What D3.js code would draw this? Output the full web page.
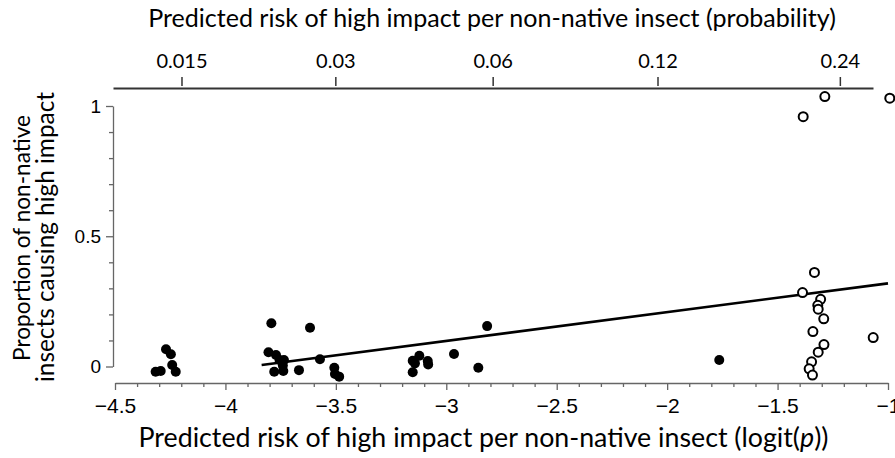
<!DOCTYPE html>
<html><head><meta charset="utf-8">
<script src="https://cdn.jsdelivr.net/npm/d3@7"></script>
<style>body{margin:0;background:#fff}svg{display:block}</style>
</head><body><svg id="c" width="895" height="458"></svg>
<script>
// ---- data ----
const filledX = [-4.316,-4.293,-4.269,-4.247,-4.241,-4.225,
  -3.792,-3.617,-3.805,-3.771,-3.755,-3.735,-3.740,-3.779,-3.738,-3.667,-3.572,-3.507,-3.504,-3.485,
  -2.815,-3.122,-3.152,-3.142,-3.084,-3.082,-3.152,-2.965,-2.855,
  -1.764];
const filledY = [-0.020,-0.017,0.066,0.047,0.006,-0.020,
  0.166,0.149,0.055,0.044,0.025,0.025,0.004,-0.020,-0.017,-0.014,0.028,-0.005,-0.029,-0.039,
  0.155,0.041,0.022,0.012,0.021,0.008,-0.022,0.048,-0.005,
  0.025];
const openX = [-1.286,-0.992,-1.384,-1.333,-1.387,-1.305,-1.318,-1.316,-1.291,-1.340,-1.067,-1.290,-1.316,-1.346,-1.357,-1.342];
const openY = [1.036,1.030,0.959,0.361,0.284,0.258,0.235,0.220,0.183,0.134,0.111,0.084,0.055,0.018,-0.009,-0.033];
const fitX = [-3.836, -1.0];
const fitY = [0.006, 0.319];
const xTicks = [-4.5,-4,-3.5,-3,-2.5,-2,-1.5,-1];
const yTicks = [0,0.5,1];
const probTicks = [0.015,0.03,0.06,0.12,0.24];
const probLabels = ["0.015","0.03","0.06","0.12","0.24"];
const topTitle = "Predicted risk of high impact per non-native insect (probability)";
const bottomTitle = ["Predicted risk of high impact per non-native insect (logit(", "p", "))"];
const yTitle = ["Proportion of non-native", "insects causing high impact"];

// ---- layout ----
const svg = d3.select("#c");
const x = d3.scaleLinear().domain([-4.5,-1]).range([115,888]);
const xTop = d3.scaleLinear().domain([-4.5,-1]).range([113,873]);
const y = d3.scaleLinear().domain([0,1]).range([366.5,106]);
const logit = p => Math.log(p/(1-p));
const sans = "'Liberation Sans', Arial, sans-serif";
const cal = "Lato, 'Open Sans', sans-serif";

function fit(sel, target){
  const n = sel.node(); const fs = parseFloat(sel.attr("font-size"));
  const w = n.getComputedTextLength();
  const nfs = fs*target/w;
  sel.attr("font-size", nfs.toFixed(2));
  return nfs;
}

// bottom axis
const xMinor = d3.range(-4.5, -0.99, 0.1).map(v=>+v.toFixed(1)).filter(v=>!xTicks.includes(v));
const gB = svg.append("g").attr("transform","translate(0,383)");
gB.call(d3.axisBottom(x).tickValues(xTicks).tickSize(7).tickSizeOuter(0).tickPadding(8).tickFormat(d3.format("")));
gB.append("g").call(d3.axisBottom(x).tickValues(xMinor).tickSize(4).tickSizeOuter(0).tickFormat(""))
  .select(".domain").remove();
gB.selectAll("text").attr("font-family",sans).attr("font-size",21).attr("fill","#000");

// left axis
const yMinor = d3.range(0.1, 1, 0.1).map(v=>+v.toFixed(1)).filter(v=>!yTicks.includes(v));
const gL = svg.append("g").attr("transform","translate(113,0)");
gL.call(d3.axisLeft(y).tickValues(yTicks).tickSize(7).tickSizeOuter(0).tickPadding(5).tickFormat(d3.format("")));
gL.append("g").call(d3.axisLeft(y).tickValues(yMinor).tickSize(4).tickSizeOuter(0).tickFormat(""))
  .select(".domain").remove();
gL.selectAll("text").attr("font-family",sans).attr("font-size",19).attr("fill","#000");

[gB,gL].forEach(g=>{
  g.selectAll("path.domain").attr("stroke","#666").attr("stroke-width",1.3);
  g.selectAll(".tick line").attr("stroke","#666").attr("stroke-width",1.3);
});

// top axis (probability)
const gT = svg.append("g").attr("transform","translate(0,88)");
gT.call(d3.axisTop(xTop).tickValues(probTicks.map(logit)).tickSize(11).tickSizeOuter(0).tickPadding(9)
  .tickFormat((d,i)=>probLabels[i]));
gT.select("path.domain").attr("stroke","#333").attr("stroke-width",2);
gT.selectAll(".tick line").attr("stroke","#333").attr("stroke-width",1.5).attr("y2",-11).attr("y1",-2);
gT.selectAll("text").attr("font-family",cal).attr("font-size",20).attr("fill","#000");

// regression line
svg.append("line")
  .attr("x1",x(fitX[0])).attr("y1",y(fitY[0]))
  .attr("x2",x(fitX[1])).attr("y2",y(fitY[1]))
  .attr("stroke","#000").attr("stroke-width",2.6);

// points
svg.append("g").selectAll("circle").data(filledX.map((v,i)=>[v,filledY[i]])).join("circle")
  .attr("cx",d=>x(d[0])).attr("cy",d=>y(d[1])).attr("r",5).attr("fill","#000");
svg.append("g").selectAll("circle").data(openX.map((v,i)=>[v,openY[i]])).join("circle")
  .attr("cx",d=>x(d[0])).attr("cy",d=>y(d[1])).attr("r",4.5)
  .attr("fill","#fff").attr("stroke","#000").attr("stroke-width",2);

// titles
const tt = svg.append("text").attr("x",492).attr("y",27).attr("text-anchor","middle")
  .attr("font-family",cal).attr("font-size",20).attr("fill","#000").text(topTitle);
fit(tt, 688);

const bt = svg.append("text").attr("x",483.5).attr("y",447).attr("text-anchor","middle")
  .attr("font-family",cal).attr("font-size",20).attr("fill","#000");
bt.append("tspan").text(bottomTitle[0]);
bt.append("tspan").attr("font-style","italic").text(bottomTitle[1]);
bt.append("tspan").text(bottomTitle[2]);
fit(bt, 690);

const yl2 = svg.append("text").attr("transform","translate(54,237) rotate(-90)").attr("text-anchor","middle")
  .attr("font-family",cal).attr("font-size",20).attr("fill","#000").text(yTitle[1]);
fit(yl2, 290);
const yl1 = svg.append("text").attr("transform","translate(30,238) rotate(-90)").attr("text-anchor","middle")
  .attr("font-family",cal).attr("font-size",20).attr("fill","#000").text(yTitle[0]);
fit(yl1, 246);
</script>
</body></html>
